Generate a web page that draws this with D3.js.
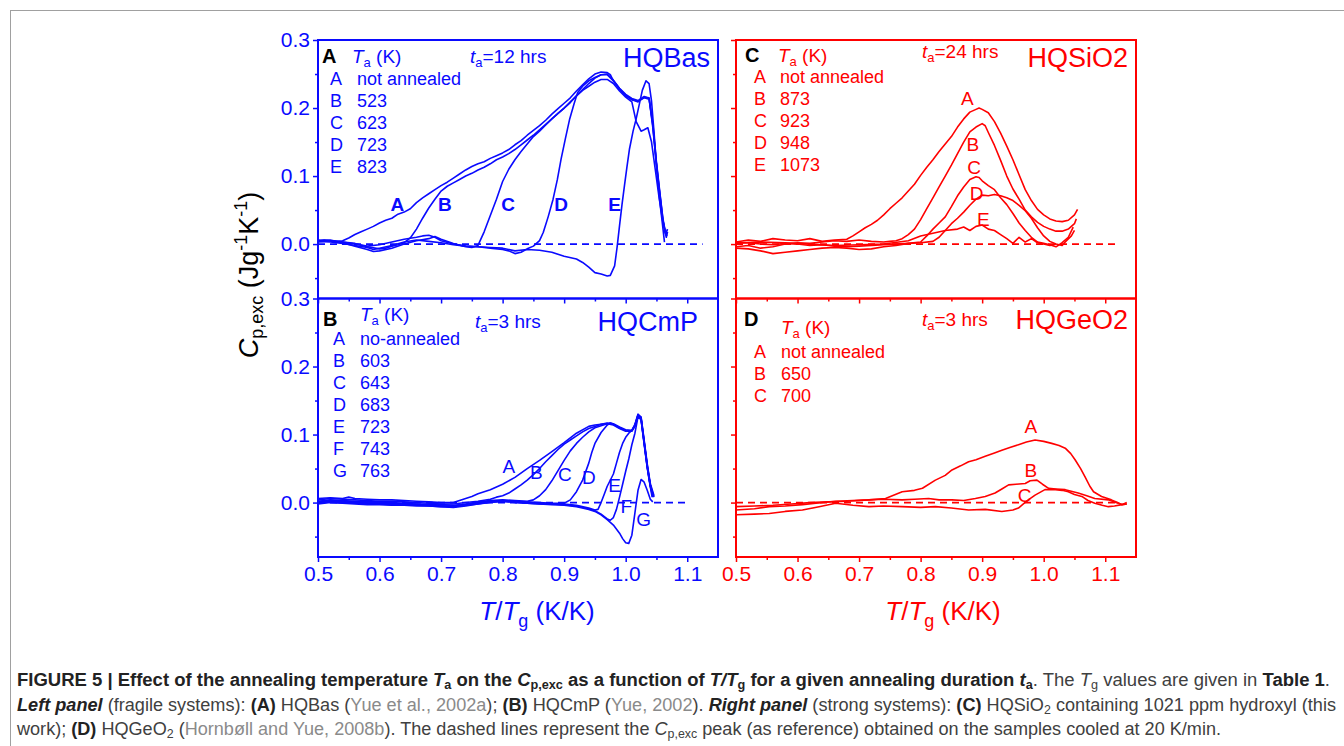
<!DOCTYPE html>
<html>
<head>
<meta charset="utf-8">
<script src="https://cdn.jsdelivr.net/npm/d3@7"></script>
<style>
  body { margin: 0; background: #fff; }
  text { font-family: Arial, "Liberation Sans", Helvetica, sans-serif; }
</style>
</head>
<body>
<svg id="fig" width="1344" height="746"></svg>
<script>
// ---- tick values (shared by all four panels)
const xMajor = [0.5, 0.6, 0.7, 0.8, 0.9, 1.0, 1.1];
const xMinor = [0.55, 0.65, 0.75, 0.85, 0.95, 1.05];
const yMajor = [0.0, 0.1, 0.2, 0.3];
const yMinor = [-0.05, 0.05, 0.15, 0.25];

// ---- (A) HQBas, ta = 12 hrs
const hqbasTemps = ["not annealed", "523", "623", "723", "823"];
const hqbasA = [[0.50,0.004],[0.51,0.006],[0.52,0.005],[0.53,0.004],[0.54,0.005],[0.55,0.009],[0.56,0.014],[0.57,0.018],[0.58,0.022],[0.59,0.026],[0.60,0.031],[0.61,0.035],[0.62,0.038],[0.63,0.044],[0.64,0.047],[0.65,0.052],[0.66,0.061],[0.67,0.068],[0.68,0.074],[0.69,0.080],[0.70,0.086],[0.71,0.091],[0.72,0.097],[0.73,0.103],[0.74,0.109],[0.75,0.114],[0.76,0.118],[0.77,0.121],[0.78,0.126],[0.79,0.130],[0.80,0.134],[0.81,0.139],[0.82,0.146],[0.83,0.152],[0.84,0.160],[0.85,0.167],[0.86,0.174],[0.87,0.182],[0.88,0.191],[0.89,0.199],[0.90,0.207],[0.91,0.215],[0.92,0.225],[0.93,0.234],[0.94,0.243],[0.95,0.250],[0.96,0.253],[0.97,0.252],[0.975,0.249],[0.98,0.240],[0.99,0.228],[1.00,0.219],[1.01,0.213],[1.02,0.209],[1.03,0.216],[1.038,0.215],[1.044,0.175],[1.049,0.125],[1.055,0.076],[1.06,0.037],[1.064,0.017],[1.066,0.010],[1.068,0.018]];
const hqbasB = [[0.50,0.003],[0.52,0.005],[0.54,0.003],[0.56,0.001],[0.58,-0.004],[0.60,-0.007],[0.61,-0.006],[0.62,-0.003],[0.63,-0.001],[0.64,0.002],[0.65,0.009],[0.66,0.022],[0.67,0.038],[0.68,0.053],[0.69,0.066],[0.70,0.078],[0.71,0.085],[0.72,0.090],[0.73,0.095],[0.74,0.100],[0.75,0.104],[0.76,0.109],[0.77,0.113],[0.78,0.118],[0.79,0.124],[0.80,0.128],[0.81,0.133],[0.82,0.139],[0.83,0.146],[0.84,0.153],[0.85,0.160],[0.86,0.168],[0.87,0.176],[0.88,0.184],[0.89,0.192],[0.90,0.200],[0.91,0.209],[0.92,0.218],[0.93,0.227],[0.94,0.236],[0.95,0.244],[0.96,0.249],[0.97,0.250],[0.98,0.241],[0.99,0.229],[1.00,0.220],[1.01,0.214],[1.02,0.211],[1.03,0.217],[1.038,0.214],[1.044,0.172],[1.05,0.118],[1.055,0.078],[1.06,0.040],[1.064,0.020],[1.067,0.012]];
const hqbasC = [[0.50,0.005],[0.52,0.006],[0.54,0.002],[0.56,-0.003],[0.58,-0.008],[0.59,-0.011],[0.60,-0.010],[0.62,-0.006],[0.64,0.0],[0.66,0.005],[0.68,0.008],[0.69,0.011],[0.70,0.007],[0.72,0.001],[0.74,-0.004],[0.75,-0.005],[0.76,-0.002],[0.77,0.018],[0.78,0.042],[0.79,0.066],[0.80,0.092],[0.81,0.110],[0.82,0.124],[0.83,0.136],[0.84,0.147],[0.85,0.158],[0.86,0.166],[0.87,0.175],[0.88,0.184],[0.89,0.192],[0.90,0.200],[0.91,0.208],[0.92,0.218],[0.93,0.226],[0.94,0.232],[0.95,0.238],[0.96,0.242],[0.97,0.242],[0.98,0.236],[0.99,0.225],[1.00,0.216],[1.01,0.209],[1.017,0.180],[1.025,0.166],[1.03,0.168],[1.036,0.171],[1.042,0.150],[1.048,0.110],[1.054,0.070],[1.06,0.035],[1.065,0.015],[1.068,0.022]];
const hqbasD = [[0.50,0.006],[0.52,0.005],[0.54,0.003],[0.56,0.0],[0.58,-0.003],[0.60,-0.001],[0.62,0.003],[0.64,0.007],[0.66,0.010],[0.67,0.012],[0.68,0.013],[0.69,0.010],[0.70,0.005],[0.72,0.0],[0.74,-0.003],[0.76,-0.004],[0.78,-0.006],[0.80,-0.008],[0.81,-0.010],[0.82,-0.014],[0.83,-0.012],[0.84,-0.007],[0.85,-0.003],[0.86,0.005],[0.866,0.017],[0.874,0.040],[0.882,0.066],[0.889,0.095],[0.895,0.125],[0.902,0.155],[0.909,0.184],[0.916,0.206],[0.922,0.223],[0.93,0.232],[0.94,0.240],[0.95,0.245],[0.96,0.249],[0.97,0.249],[0.98,0.240],[0.99,0.228],[1.00,0.218],[1.01,0.212],[1.02,0.210],[1.03,0.215],[1.038,0.213],[1.044,0.178],[1.05,0.120],[1.056,0.072],[1.061,0.033],[1.065,0.015]];
const hqbasE = [[0.50,0.004],[0.52,0.003],[0.54,0.001],[0.56,-0.002],[0.58,-0.005],[0.59,-0.008],[0.60,-0.006],[0.62,-0.002],[0.64,0.003],[0.66,0.006],[0.68,0.004],[0.70,0.002],[0.72,-0.001],[0.74,-0.003],[0.76,-0.004],[0.78,-0.005],[0.80,-0.006],[0.82,-0.010],[0.84,-0.008],[0.86,-0.009],[0.88,-0.012],[0.90,-0.018],[0.92,-0.022],[0.93,-0.027],[0.94,-0.034],[0.95,-0.042],[0.96,-0.044],[0.97,-0.047],[0.975,-0.046],[0.982,-0.032],[0.986,-0.005],[0.99,0.027],[0.994,0.058],[0.998,0.086],[1.002,0.113],[1.006,0.139],[1.012,0.166],[1.017,0.184],[1.022,0.205],[1.027,0.226],[1.033,0.240],[1.038,0.236],[1.042,0.210],[1.046,0.165],[1.05,0.115],[1.055,0.066],[1.06,0.027],[1.063,0.003]];
const hqbasMarks = [["A",0.629,0.049],["B",0.706,0.049],["C",0.809,0.049],["D",0.895,0.049],["E",0.982,0.049]];

// ---- (B) HQCmP, ta = 3 hrs
const hqcmpTemps = ["no-annealed", "603", "643", "683", "723", "743", "763"];
const hqcmpA = [[0.50,0.006],[0.52,0.007],[0.54,0.006],[0.55,0.008],[0.56,0.006],[0.58,0.005],[0.60,0.004],[0.62,0.004],[0.64,0.003],[0.66,0.002],[0.68,0.001],[0.70,0.0],[0.72,0.0],[0.73,0.003],[0.74,0.006],[0.75,0.009],[0.76,0.013],[0.77,0.016],[0.78,0.019],[0.79,0.023],[0.80,0.027],[0.82,0.037],[0.84,0.050],[0.86,0.062],[0.88,0.075],[0.90,0.088],[0.92,0.102],[0.94,0.112],[0.95,0.114],[0.96,0.115],[0.97,0.116],[0.975,0.117],[0.98,0.116],[0.99,0.111],[1.00,0.107],[1.01,0.106],[1.015,0.115],[1.02,0.130],[1.025,0.125],[1.03,0.090],[1.035,0.055],[1.04,0.025],[1.045,0.009]];
const hqcmpB = [[0.50,0.004],[0.52,0.006],[0.54,0.005],[0.56,0.004],[0.58,0.003],[0.60,0.002],[0.62,0.002],[0.64,0.001],[0.66,0.0],[0.68,-0.001],[0.70,-0.002],[0.72,-0.002],[0.74,0.0],[0.76,0.002],[0.78,0.005],[0.79,0.008],[0.80,0.010],[0.81,0.014],[0.82,0.020],[0.83,0.026],[0.84,0.033],[0.85,0.041],[0.86,0.050],[0.87,0.060],[0.88,0.069],[0.89,0.078],[0.90,0.086],[0.91,0.092],[0.92,0.098],[0.93,0.104],[0.94,0.109],[0.95,0.112],[0.96,0.115],[0.97,0.117],[0.98,0.115],[0.99,0.110],[1.00,0.106],[1.01,0.106],[1.015,0.114],[1.02,0.129],[1.025,0.126],[1.03,0.092],[1.035,0.057],[1.04,0.028],[1.046,0.010]];
const hqcmpC = [[0.50,0.002],[0.52,0.004],[0.54,0.003],[0.56,0.002],[0.58,0.001],[0.60,0.001],[0.62,0.0],[0.64,-0.001],[0.66,-0.002],[0.68,-0.003],[0.70,-0.003],[0.72,-0.004],[0.74,-0.002],[0.76,0.001],[0.78,0.003],[0.80,0.004],[0.82,0.003],[0.84,0.002],[0.85,0.004],[0.86,0.010],[0.87,0.019],[0.88,0.032],[0.89,0.047],[0.90,0.062],[0.91,0.076],[0.92,0.087],[0.93,0.096],[0.94,0.104],[0.95,0.110],[0.96,0.113],[0.97,0.116],[0.98,0.114],[0.99,0.109],[1.00,0.105],[1.01,0.105],[1.015,0.113],[1.02,0.128],[1.025,0.124],[1.03,0.088],[1.035,0.054],[1.04,0.026],[1.046,0.008]];
const hqcmpD = [[0.50,0.001],[0.52,0.003],[0.54,0.002],[0.56,0.001],[0.58,0.0],[0.60,0.0],[0.62,-0.001],[0.64,-0.002],[0.66,-0.003],[0.68,-0.004],[0.70,-0.005],[0.72,-0.005],[0.74,-0.003],[0.76,0.0],[0.78,0.002],[0.80,0.003],[0.82,0.002],[0.84,0.001],[0.86,0.0],[0.88,-0.001],[0.90,-0.001],[0.91,0.004],[0.92,0.016],[0.93,0.033],[0.94,0.058],[0.945,0.074],[0.95,0.087],[0.96,0.103],[0.97,0.114],[0.975,0.117],[0.98,0.115],[0.99,0.110],[1.00,0.106],[1.01,0.105],[1.015,0.112],[1.02,0.127],[1.025,0.123],[1.03,0.089],[1.035,0.053],[1.04,0.025],[1.045,0.008]];
const hqcmpE = [[0.50,0.000],[0.52,0.002],[0.54,0.001],[0.56,0.0],[0.58,-0.001],[0.60,-0.001],[0.62,-0.002],[0.64,-0.003],[0.66,-0.003],[0.68,-0.004],[0.70,-0.005],[0.72,-0.006],[0.74,-0.004],[0.76,-0.001],[0.78,0.001],[0.80,0.002],[0.82,0.001],[0.84,0.0],[0.86,-0.001],[0.88,-0.002],[0.90,-0.002],[0.92,-0.004],[0.94,-0.008],[0.95,-0.011],[0.955,-0.010],[0.96,0.0],[0.965,0.012],[0.97,0.024],[0.98,0.042],[0.985,0.058],[0.99,0.074],[0.995,0.087],[1.00,0.096],[1.005,0.102],[1.01,0.106],[1.015,0.113],[1.02,0.128],[1.025,0.122],[1.03,0.087],[1.035,0.052],[1.04,0.024],[1.044,0.008]];
const hqcmpF = [[0.50,-0.001],[0.52,0.001],[0.54,0.0],[0.56,-0.001],[0.58,-0.002],[0.60,-0.002],[0.62,-0.003],[0.64,-0.003],[0.66,-0.004],[0.68,-0.005],[0.70,-0.006],[0.72,-0.006],[0.74,-0.004],[0.76,-0.002],[0.78,0.0],[0.80,0.002],[0.82,0.001],[0.84,-0.001],[0.86,-0.002],[0.88,-0.002],[0.90,-0.003],[0.92,-0.005],[0.94,-0.009],[0.95,-0.012],[0.96,-0.017],[0.97,-0.024],[0.975,-0.026],[0.98,-0.022],[0.985,-0.010],[0.99,0.008],[0.995,0.027],[1.00,0.046],[1.005,0.064],[1.01,0.085],[1.015,0.102],[1.02,0.126],[1.025,0.122],[1.03,0.086],[1.035,0.051],[1.04,0.023],[1.043,0.008]];
const hqcmpG = [[0.50,-0.002],[0.52,0.0],[0.54,-0.001],[0.56,-0.002],[0.58,-0.003],[0.60,-0.003],[0.62,-0.004],[0.64,-0.004],[0.66,-0.005],[0.68,-0.005],[0.70,-0.006],[0.72,-0.007],[0.74,-0.005],[0.76,-0.002],[0.78,0.001],[0.80,0.002],[0.82,0.0],[0.84,-0.001],[0.86,-0.002],[0.88,-0.003],[0.90,-0.004],[0.92,-0.006],[0.94,-0.010],[0.95,-0.013],[0.96,-0.018],[0.97,-0.025],[0.98,-0.033],[0.99,-0.045],[0.995,-0.053],[1.00,-0.059],[1.005,-0.060],[1.01,-0.048],[1.015,-0.015],[1.02,0.018],[1.025,0.034],[1.03,0.030],[1.035,0.018],[1.04,0.005],[1.044,0.001]];
const hqcmpMarks = [["A",0.810,0.043],["B",0.855,0.035],["C",0.901,0.032],["D",0.940,0.028],["E",0.982,0.015],["F",1.001,-0.015],["G",1.029,-0.035]];

// ---- (C) HQSiO2, ta = 24 hrs
const hqsio2Temps = ["not annealed", "873", "923", "948", "1073"];
const hqsio2A = [[0.50,0.003],[0.52,0.006],[0.54,0.004],[0.56,0.008],[0.58,0.006],[0.60,0.005],[0.62,0.008],[0.64,0.004],[0.66,0.006],[0.68,0.007],[0.69,0.012],[0.70,0.018],[0.71,0.024],[0.72,0.029],[0.73,0.035],[0.74,0.043],[0.75,0.052],[0.76,0.060],[0.77,0.068],[0.78,0.078],[0.79,0.088],[0.80,0.101],[0.81,0.113],[0.82,0.124],[0.83,0.136],[0.84,0.147],[0.85,0.158],[0.86,0.172],[0.87,0.184],[0.88,0.194],[0.89,0.198],[0.895,0.200],[0.90,0.198],[0.91,0.193],[0.92,0.180],[0.93,0.163],[0.94,0.144],[0.95,0.124],[0.96,0.102],[0.97,0.080],[0.98,0.064],[0.99,0.051],[1.00,0.043],[1.01,0.037],[1.02,0.034],[1.03,0.033],[1.04,0.035],[1.05,0.043],[1.055,0.051]];
const hqsio2B = [[0.50,-0.004],[0.52,-0.002],[0.54,-0.006],[0.56,-0.004],[0.58,0.0],[0.60,0.002],[0.62,0.001],[0.64,0.003],[0.66,0.005],[0.68,0.004],[0.70,0.006],[0.72,0.004],[0.74,0.003],[0.75,0.004],[0.76,0.005],[0.77,0.008],[0.78,0.014],[0.79,0.022],[0.80,0.036],[0.81,0.052],[0.82,0.068],[0.83,0.084],[0.84,0.100],[0.85,0.116],[0.86,0.133],[0.87,0.150],[0.88,0.165],[0.89,0.172],[0.90,0.177],[0.905,0.174],[0.91,0.164],[0.92,0.145],[0.93,0.123],[0.94,0.100],[0.95,0.081],[0.96,0.066],[0.97,0.050],[0.98,0.040],[0.99,0.032],[1.00,0.026],[1.01,0.022],[1.02,0.019],[1.03,0.019],[1.04,0.022],[1.05,0.030],[1.053,0.037]];
const hqsio2C = [[0.50,-0.006],[0.52,-0.007],[0.54,-0.010],[0.56,-0.014],[0.58,-0.012],[0.60,-0.010],[0.62,-0.008],[0.64,-0.006],[0.66,-0.005],[0.68,-0.006],[0.70,-0.008],[0.72,-0.007],[0.74,-0.004],[0.76,-0.002],[0.78,0.001],[0.80,0.003],[0.81,0.012],[0.82,0.022],[0.83,0.031],[0.84,0.040],[0.85,0.055],[0.86,0.071],[0.87,0.084],[0.88,0.095],[0.89,0.099],[0.895,0.098],[0.90,0.093],[0.91,0.086],[0.92,0.080],[0.93,0.068],[0.94,0.058],[0.95,0.045],[0.96,0.031],[0.97,0.020],[0.98,0.010],[0.99,0.003],[1.00,0.001],[1.01,-0.001],[1.02,-0.004],[1.03,0.002],[1.04,0.010],[1.048,0.025]];
const hqsio2D = [[0.50,0.001],[0.52,0.002],[0.54,0.0],[0.56,-0.001],[0.58,0.001],[0.60,0.0],[0.62,-0.002],[0.64,-0.001],[0.66,-0.003],[0.68,-0.004],[0.70,-0.003],[0.72,-0.002],[0.74,-0.001],[0.76,0.0],[0.78,0.001],[0.80,0.002],[0.82,0.004],[0.83,0.010],[0.84,0.020],[0.85,0.030],[0.86,0.038],[0.87,0.047],[0.88,0.057],[0.89,0.066],[0.90,0.072],[0.91,0.071],[0.92,0.073],[0.93,0.071],[0.94,0.068],[0.95,0.064],[0.96,0.057],[0.97,0.049],[0.98,0.038],[0.99,0.024],[1.00,0.012],[1.01,0.004],[1.02,0.0],[1.03,-0.002],[1.035,0.003],[1.045,0.012],[1.05,0.020]];
const hqsio2E = [[0.50,0.002],[0.54,0.003],[0.58,0.002],[0.62,0.0],[0.66,-0.002],[0.70,-0.001],[0.74,0.0],[0.78,0.005],[0.80,0.012],[0.82,0.016],[0.84,0.020],[0.86,0.022],[0.87,0.025],[0.88,0.020],[0.89,0.026],[0.90,0.028],[0.91,0.022],[0.92,0.020],[0.93,0.014],[0.94,0.008],[0.95,0.001],[0.96,0.010],[0.97,0.003],[0.98,0.008],[0.99,0.002],[1.00,0.0],[1.01,-0.002],[1.02,0.0]];
const hqsio2Marks = [["A",0.876,0.204],["B",0.885,0.137],["C",0.887,0.103],["D",0.891,0.065],["E",0.902,0.026]];

// ---- (D) HQGeO2, ta = 3 hrs
const hqgeo2Temps = ["not annealed", "650", "700"];
const hqgeo2A = [[0.50,-0.011],[0.53,-0.009],[0.554,-0.006],[0.58,-0.005],[0.608,-0.003],[0.63,-0.001],[0.662,0.002],[0.69,0.003],[0.716,0.004],[0.743,0.006],[0.77,0.016],[0.79,0.018],[0.803,0.021],[0.824,0.033],[0.84,0.040],[0.851,0.048],[0.865,0.054],[0.878,0.060],[0.89,0.063],[0.905,0.068],[0.92,0.073],[0.932,0.077],[0.945,0.081],[0.959,0.085],[0.972,0.089],[0.986,0.092],[1.0,0.090],[1.013,0.087],[1.025,0.084],[1.035,0.080],[1.044,0.072],[1.051,0.063],[1.06,0.050],[1.067,0.038],[1.075,0.024],[1.081,0.016],[1.094,0.009],[1.11,0.004],[1.12,0.0],[1.127,-0.003],[1.135,-0.002]];
const hqgeo2B = [[0.50,-0.006],[0.53,-0.005],[0.56,-0.004],[0.59,-0.002],[0.62,0.0],[0.65,0.001],[0.68,0.002],[0.716,0.004],[0.74,0.005],[0.77,0.004],[0.79,0.005],[0.813,0.006],[0.83,0.004],[0.851,0.004],[0.87,0.003],[0.889,0.006],[0.905,0.009],[0.921,0.014],[0.932,0.020],[0.943,0.026],[0.955,0.027],[0.97,0.028],[0.978,0.032],[0.989,0.033],[0.998,0.027],[1.008,0.021],[1.02,0.020],[1.035,0.019],[1.056,0.014],[1.07,0.010],[1.083,0.006],[1.105,0.004],[1.115,0.001],[1.127,-0.003],[1.135,0.0]];
const hqgeo2C = [[0.50,-0.018],[0.53,-0.017],[0.554,-0.016],[0.58,-0.013],[0.608,-0.011],[0.635,-0.006],[0.662,-0.001],[0.69,-0.004],[0.716,-0.006],[0.74,-0.005],[0.77,-0.006],[0.80,-0.007],[0.824,-0.006],[0.85,-0.008],[0.878,-0.011],[0.905,-0.010],[0.932,-0.013],[0.95,-0.011],[0.959,-0.008],[0.967,-0.002],[0.975,0.004],[0.986,0.011],[1.002,0.019],[1.019,0.019],[1.03,0.018],[1.04,0.016],[1.05,0.012],[1.062,0.009],[1.072,0.003],[1.083,-0.001],[1.095,-0.004],[1.105,-0.006],[1.115,-0.005],[1.127,-0.003],[1.135,-0.002]];
const hqgeo2Marks = [["A",0.979,0.102],["B",0.979,0.037],["C",0.969,0.0015]];

// dashed reference lines end at these T/Tg values
const dashEnd = [1.125, 1.10, 1.12, 1.12];

const BLUE = "#0a0aff", RED = "#ff0000";

// options per panel (built from the arrays above)
const panels = [
  { id: "A", name: "HQBas", time: "12", temps: hqbasTemps, curves: [hqbasA, hqbasB, hqbasC, hqbasD, hqbasE], marks: hqbasMarks,
    color: BLUE, left: 318, top: 40, markBold: true, yLabels: true, dash: dashEnd[0],
    lay: { idx: 4, idy: 23, tax: 34, tay: 23, tx: 152, ty: 23, nx: 8, ny: 27, lx: 12, vx: 39, ly: 45 } },
  { id: "B", name: "HQCmP", time: "3", temps: hqcmpTemps, curves: [hqcmpA, hqcmpB, hqcmpC, hqcmpD, hqcmpE, hqcmpF, hqcmpG], marks: hqcmpMarks,
    color: BLUE, left: 318, top: 298.5, markBold: false, yLabels: true, dash: dashEnd[1],
    lay: { idx: 5, idy: 27, tax: 42, tay: 22, tx: 157, ty: 29, nx: 20, ny: 32, lx: 15, vx: 42, ly: 46 } },
  { id: "C", name: "HQSiO2", time: "24", temps: hqsio2Temps, curves: [hqsio2A, hqsio2B, hqsio2C, hqsio2D, hqsio2E], marks: hqsio2Marks,
    color: RED, left: 736, top: 40, markBold: false, yLabels: false, dash: dashEnd[2],
    lay: { idx: 9, idy: 22, tax: 42, tay: 22, tx: 186, ty: 18, nx: 8, ny: 27, lx: 18, vx: 44, ly: 43 } },
  { id: "D", name: "HQGeO2", time: "3", temps: hqgeo2Temps, curves: [hqgeo2A, hqgeo2B, hqgeo2C], marks: hqgeo2Marks,
    color: RED, left: 736, top: 298.5, markBold: false, yLabels: false, dash: dashEnd[3],
    lay: { idx: 8, idy: 27, tax: 45, tay: 35, tx: 186, ty: 27, nx: 8, ny: 30, lx: 18, vx: 45, ly: 59 } }
];
const letters = ["A", "B", "C", "D", "E", "F", "G"];

const W = 400, H = 258.5;
const svg = d3.select("#fig");

// light frame around the whole figure
svg.append("rect").attr("x", 10.5).attr("y", 10.5).attr("width", 1400).attr("height", 800)
  .attr("fill", "none").attr("stroke", "#a0a0a0").attr("stroke-width", 1);

panels.forEach(p => {
  const x = d3.scaleLinear().domain([0.5, 1.15]).range([p.left, p.left + W]);
  const y = d3.scaleLinear().domain([-0.08, 0.3]).range([p.top + H, p.top]);
  const g = svg.append("g");
  const c = p.color;

  // axes: major + minor ticks, pointing out
  const fmt = p.yLabels ? d3.format(".1f") : () => "";
  const yAx = g.append("g").attr("transform", `translate(${p.left},0)`)
    .call(d3.axisLeft(y).tickValues(yMajor).tickSize(5).tickPadding(3).tickFormat(fmt));
  const yAxm = g.append("g").attr("transform", `translate(${p.left},0)`)
    .call(d3.axisLeft(y).tickValues(yMinor).tickSize(3).tickFormat(""));
  const xAx = g.append("g").attr("transform", `translate(0,${p.top + H})`)
    .call(d3.axisBottom(x).tickValues(xMajor).tickSize(5).tickPadding(4)
      .tickFormat(p.id === "B" || p.id === "D" ? d3.format(".1f") : () => ""));
  const xAxm = g.append("g").attr("transform", `translate(0,${p.top + H})`)
    .call(d3.axisBottom(x).tickValues(xMinor).tickSize(3).tickFormat(""));
  [yAx, yAxm, xAx, xAxm].forEach(a => {
    a.select(".domain").remove();
    a.selectAll("line").attr("stroke", c).attr("stroke-width", 1.5);
    a.selectAll("text").attr("fill", c).style("font-size", "21px")
      .style("font-family", "Arial, 'Liberation Sans', sans-serif");
  });

  // dashed reference
  g.append("line").attr("x1", x(0.5)).attr("x2", x(p.dash)).attr("y1", y(0)).attr("y2", y(0))
    .attr("stroke", c).attr("stroke-width", 1.6).attr("stroke-dasharray", "7,5");

  // curves
  const line = d3.line().x(d => x(d[0])).y(d => y(d[1]));
  g.selectAll("path.curve").data(p.curves).enter().append("path")
    .attr("class", "curve").attr("d", line).attr("fill", "none")
    .attr("stroke", c).attr("stroke-width", 1.6).attr("stroke-linejoin", "round");

  // curve letters
  g.selectAll("text.mark").data(p.marks).enter().append("text")
    .attr("class", "mark").attr("x", d => x(d[1])).attr("y", d => y(d[2]))
    .attr("text-anchor", "middle").attr("fill", c)
    .style("font-size", "19px")
    .style("font-weight", p.markBold ? "bold" : "normal")
    .text(d => d[0]);

  // frame
  g.append("rect").attr("x", p.left).attr("y", p.top).attr("width", W).attr("height", H)
    .attr("fill", "none").attr("stroke", c).attr("stroke-width", 2);

  // header texts
  const L = p.lay;
  g.append("text").attr("x", p.left + L.idx).attr("y", p.top + L.idy)
    .attr("fill", "#000").style("font-size", "20px").style("font-weight", "bold").text(p.id);
  const ta = g.append("text").attr("x", p.left + L.tax).attr("y", p.top + L.tay)
    .attr("fill", c).style("font-size", "19px");
  ta.append("tspan").style("font-style", "italic").text("T");
  ta.append("tspan").attr("dy", 4).style("font-size", "13px").text("a");
  ta.append("tspan").attr("dy", -4).text(" (K)");
  const tt = g.append("text").attr("x", p.left + L.tx).attr("y", p.top + L.ty)
    .attr("fill", c).style("font-size", "19px");
  tt.append("tspan").style("font-style", "italic").text("t");
  tt.append("tspan").attr("dy", 4).style("font-size", "13px").text("a");
  tt.append("tspan").attr("dy", -4).text(`=${p.time} hrs`);
  g.append("text").attr("x", p.left + W - L.nx).attr("y", p.top + L.ny)
    .attr("text-anchor", "end").attr("fill", c).style("font-size", "27px").text(p.name);

  // legend rows
  p.temps.forEach((t, i) => {
    g.append("text").attr("x", p.left + L.lx).attr("y", p.top + L.ly + i * 22)
      .attr("fill", c).style("font-size", "18px").text(letters[i]);
    g.append("text").attr("x", p.left + L.vx).attr("y", p.top + L.ly + i * 22)
      .attr("fill", c).style("font-size", "18px").text(t);
  });
});

// y title (shared)
const yt = svg.append("text").attr("transform", "translate(258,275) rotate(-90)")
  .attr("text-anchor", "middle").attr("fill", "#000").style("font-size", "27px");
yt.append("tspan").style("font-style", "italic").text("C");
yt.append("tspan").attr("dy", 5).style("font-size", "18px").text("p,exc");
yt.append("tspan").attr("dy", -5).text(" (Jg");
yt.append("tspan").attr("dy", -11).style("font-size", "18px").text("-1");
yt.append("tspan").attr("dy", 11).text("K");
yt.append("tspan").attr("dy", -11).style("font-size", "18px").text("-1");
yt.append("tspan").attr("dy", 11).text(")");

// x titles
[[537, BLUE], [943, RED]].forEach(([cx, col]) => {
  const t = svg.append("text").attr("x", cx).attr("y", 620).attr("text-anchor", "middle")
    .attr("fill", col).style("font-size", "26px");
  t.append("tspan").style("font-style", "italic").text("T");
  t.append("tspan").text("/");
  t.append("tspan").style("font-style", "italic").text("T");
  t.append("tspan").attr("dy", 7).style("font-size", "18px").text("g");
  t.append("tspan").attr("dy", -7).text(" (K/K)");
});

// caption
const capLines = [
  [["FIGURE 5 | Effect of the annealing temperature ", "b"], ["T", "bi"], ["a", "bs"], [" on the ", "b"], ["C", "bi"], ["p,exc", "bs"],
   [" as a function of ", "b"], ["T/T", "bi"], ["g", "bs"], [" for a given annealing duration ", "b"], ["t", "bi"], ["a", "bs"],
   [". The ", ""], ["T", "i"], ["g", "s"], [" values are given in ", ""], ["Table 1", "b"], [".", ""]],
  [["Left panel", "bi"], [" (fragile systems): ", ""], ["(A)", "b"], [" HQBas (", ""], ["Yue et al., 2002a", "r"], ["); ", ""],
   ["(B)", "b"], [" HQCmP (", ""], ["Yue, 2002", "r"], ["). ", ""], ["Right panel", "bi"], [" (strong systems): ", ""], ["(C)", "b"],
   [" HQSiO", ""], ["2", "s"], [" containing 1021 ppm hydroxyl (this", ""]],
  [["work); ", ""], ["(D)", "b"], [" HQGeO", ""], ["2", "s"], [" (", ""], ["Hornbøll and Yue, 2008b", "r"],
   ["). The dashed lines represent the ", ""], ["C", "i"], ["p,exc", "s"], [" peak (as reference) obtained on the samples cooled at 20 K/min.", ""]]
];
const capWidths = [1313, 1319, 1204];
capLines.forEach((parts, li) => {
  const t = svg.append("text").attr("x", 17).attr("y", 686 + li * 24.5)
    .attr("fill", "#404040").style("font-size", "17.5px")
    .attr("textLength", capWidths[li]).attr("lengthAdjust", "spacingAndGlyphs");
  let down = false;
  parts.forEach(([str, st]) => {
    const s = t.append("tspan").text(str);
    if (st.includes("b")) s.style("font-weight", "bold").attr("fill", "#222");
    if (st.includes("i")) s.style("font-style", "italic");
    if (st.includes("r")) s.attr("fill", "#8a8a8a");
    if (st.includes("s")) { s.style("font-size", "12px"); if (!down) { s.attr("dy", 3); down = true; } }
    else if (down) { s.attr("dy", -3); down = false; }
  });
});
</script>
</body>
</html>
